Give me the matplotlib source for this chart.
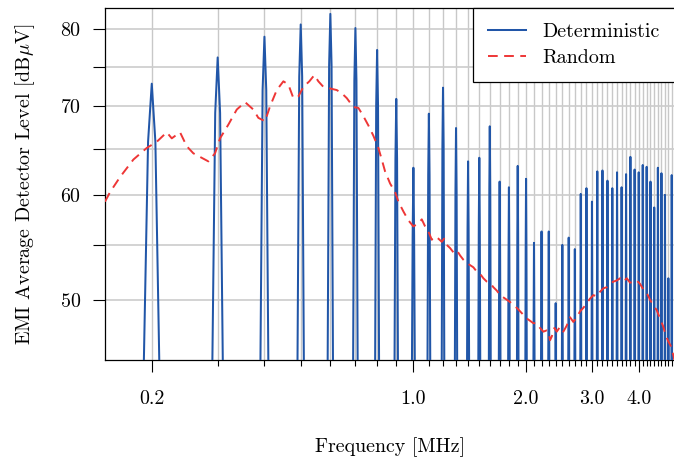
import matplotlib
matplotlib.use("Agg")
import matplotlib.pyplot as plt
from matplotlib.ticker import FixedLocator, FixedFormatter, NullLocator

# ---------------- data ----------------
harm_freq = [0.2, 0.3, 0.4, 0.5, 0.6, 0.7, 0.8, 0.9, 1.0, 1.1, 1.2, 1.3, 1.4, 1.5,
             1.6, 1.7, 1.8, 1.9, 2.0, 2.1, 2.2, 2.3, 2.4, 2.5, 2.6, 2.7, 2.8, 2.9,
             3.0, 3.1, 3.2, 3.3, 3.4, 3.5, 3.6, 3.7, 3.8, 3.9, 4.0, 4.1, 4.2, 4.3,
             4.4, 4.5, 4.6, 4.7, 4.8, 4.9]
harm_level = [72.8, 76.2, 79.0, 80.7, 82.2, 80.2, 77.2, 70.9, 62.9, 69.1, 72.3, 67.4,
              63.6, 64.0, 67.6, 61.4, 60.8, 63.1, 61.7, 55.2, 56.3, 56.3, 49.7, 55.0,
              55.7, 54.6, 60.1, 60.7, 59.3, 62.5, 62.6, 61.5, 60.7, 62.4, 60.8, 62.2,
              64.1, 62.7, 62.4, 63.2, 63.0, 61.4, 58.7, 62.9, 62.3, 60.0, 51.9, 62.1]

# measurement filter skirt around each harmonic line
floor_db = 40.0
shoulder_khz = 4.5
shoulder_drop_db = 7.0
skirt_khz = 11.0

rand_freq = [0.150, 0.1548, 0.1646, 0.1786, 0.1939, 0.2062, 0.2193, 0.2262, 0.2380,
             0.2480, 0.2583, 0.2692, 0.2833, 0.2952, 0.3044, 0.3204, 0.3374, 0.3551,
             0.3736, 0.3853, 0.4015, 0.4141, 0.4315, 0.4494, 0.4634, 0.4779, 0.4928,
             0.5082, 0.5273, 0.5438, 0.5573, 0.5748, 0.5989, 0.6241, 0.6436, 0.6637,
             0.6914, 0.7130, 0.7352, 0.7582, 0.7818, 0.8063, 0.8233, 0.8402, 0.8665,
             0.8935, 0.9119, 0.9403, 0.9697, 1.000, 1.0312, 1.053, 1.0746, 1.0967,
             1.1198, 1.1428, 1.1663, 1.1909, 1.2079, 1.2281, 1.2533, 1.279, 1.306,
             1.3328, 1.3601, 1.3888, 1.4173, 1.4464, 1.477, 1.5073, 1.5382, 1.5707,
             1.6098, 1.6358, 1.6704, 1.7047, 1.7397, 1.7764, 1.8129, 1.850, 1.8891,
             1.9278, 1.9674, 2.0086, 2.0498, 2.0919, 2.136, 2.1798, 2.2246, 2.2716,
             2.294, 2.3182, 2.3426, 2.3804, 2.4158, 2.4652, 2.5158, 2.569, 2.6216,
             2.6754, 2.732, 2.788, 2.8454, 2.9055, 2.9652, 3.0258, 3.090, 3.1533,
             3.2181, 3.2859, 3.3534, 3.4221, 3.4944, 3.5661, 3.6393, 3.7161, 3.7923,
             3.8693, 3.951, 4.032, 4.1148, 4.2017, 4.288, 4.376, 4.4684, 4.56, 4.6536,
             4.7228, 4.7988, 4.8792, 4.9488, 5.0]
rand_level = [59.3, 60.3, 61.9, 63.8, 65.1, 65.8, 66.9, 66.2, 66.9, 65.3, 64.5, 64.1,
              63.6, 64.5, 66.2, 67.8, 69.6, 70.5, 69.6, 68.6, 68.2, 70.0, 72.0, 73.1,
              72.7, 71.0, 71.2, 72.4, 73.1, 73.9, 73.1, 72.4, 72.2, 72.0, 71.6, 71.0,
              69.9, 69.8, 68.8, 67.7, 66.5, 65.1, 63.8, 62.5, 61.2, 60.3, 59.3, 58.3,
              57.4, 56.8, 57.1, 57.5, 56.8, 56.3, 55.5, 55.8, 55.6, 55.3, 55.6, 55.0,
              54.7, 54.3, 54.5, 54.0, 53.6, 53.3, 53.1, 52.9, 52.5, 52.3, 51.9, 51.6,
              51.4, 51.1, 50.8, 50.4, 50.2, 50.0, 49.8, 49.5, 49.3, 49.0, 48.7, 48.4,
              48.2, 48.0, 48.0, 47.6, 47.3, 47.4, 47.3, 46.6, 46.9, 47.6, 47.3, 47.7,
              47.3, 47.8, 48.5, 48.1, 48.5, 49.0, 49.3, 49.7, 50.1, 50.4, 50.3, 50.7,
              51.0, 51.1, 51.4, 51.6, 51.7, 51.9, 51.6, 51.9, 51.5, 51.6, 51.7, 51.4,
              50.9, 50.6, 50.0, 49.5, 49.1, 48.4, 47.7, 47.0, 46.5, 46.1, 45.4, 44.8]

x_major = [0.2, 1.0, 2.0, 3.0, 4.0]
x_major_labels = ["0.2", "1.0", "2.0", "3.0", "4.0"]
y_ticks = [50, 55, 60, 65, 70, 75, 80]
y_tick_labels = ["50", "", "60", "", "70", "", "80"]

# ---------------- style ----------------
plt.rcParams["font.family"] = "serif"
plt.rcParams["font.serif"] = ["cmr10"]
plt.rcParams["mathtext.fontset"] = "cm"
plt.rcParams["axes.unicode_minus"] = False
plt.rcParams["axes.formatter.use_mathtext"] = True
FS = 14.4

blue = "#2156a8"
red = "#ee3636"

fig = plt.figure(figsize=(6.74, 4.59), dpi=100)
ax = fig.add_axes([105 / 674, 1 - 360.3 / 459, 570 / 674, (360.3 - 8.3) / 459])

# build deterministic trace
f_det, l_det = [], []
for h, p in zip(harm_freq, harm_level):
    f_det += [h - skirt_khz / 1000, h - shoulder_khz / 1000, h,
              h + shoulder_khz / 1000, h + skirt_khz / 1000]
    l_det += [floor_db, p - shoulder_drop_db, p, p - shoulder_drop_db, floor_db]

ax.plot(f_det, l_det, color=blue, lw=1.45, label="Deterministic", zorder=3)
ax.plot(rand_freq, rand_level, color=red, lw=1.4, linestyle=(0, (5.0, 3.3)),
        label="Random", zorder=4)

ax.set_xscale("log")
ax.set_yscale("log")
ax.set_xlim(0.15, 5.0)
ax.set_ylim(45, 83)

minor = [f for f in harm_freq if f not in x_major]
ax.xaxis.set_major_locator(FixedLocator(x_major))
ax.xaxis.set_major_formatter(FixedFormatter(x_major_labels))
ax.xaxis.set_minor_locator(FixedLocator(minor))
ax.xaxis.set_minor_formatter(FixedFormatter([""] * len(minor)))
ax.yaxis.set_major_locator(FixedLocator(y_ticks))
ax.yaxis.set_major_formatter(FixedFormatter(y_tick_labels))
ax.yaxis.set_minor_locator(NullLocator())

ax.grid(True, which="both", axis="x", color="#c8c8c8", lw=1.0, zorder=0)
ax.grid(True, which="major", axis="y", color="#cccccc", lw=1.2, zorder=0)
ax.set_axisbelow(True)

ax.tick_params(axis="x", which="major", length=8.7, width=0.8, pad=13, labelsize=FS)
ax.tick_params(axis="x", which="minor", length=4.3, width=0.8)
ax.tick_params(axis="y", which="major", length=8.7, width=0.8, pad=9, labelsize=FS)
for s in ax.spines.values():
    s.set_linewidth(0.9)

ax.set_xlabel("Frequency [MHz]", fontsize=FS, labelpad=21)
ax.set_ylabel(r"EMI Average Detector Level [dB$\mu$V]", fontsize=FS, labelpad=17)

leg = ax.legend(loc="upper right", bbox_to_anchor=(1, 1), borderaxespad=0,
                fancybox=False, edgecolor="black", framealpha=1, fontsize=FS,
                handlelength=1.9, handletextpad=0.85, borderpad=0.75,
                labelspacing=0.38)
leg.get_frame().set_linewidth(0.9)

fig.savefig("out.png", dpi=100)
